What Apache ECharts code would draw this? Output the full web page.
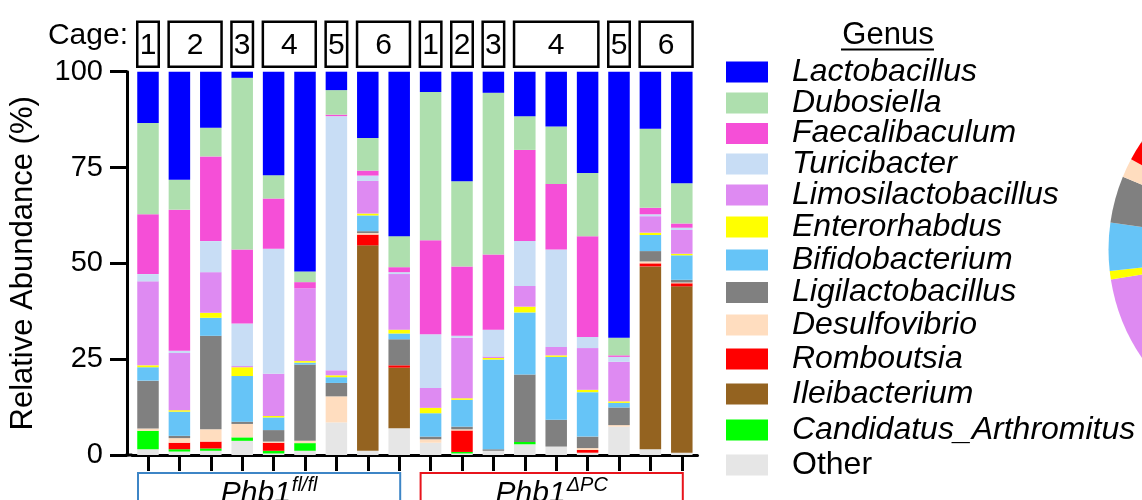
<!DOCTYPE html>
<html>
<head>
<meta charset="utf-8">
<script src="https://cdn.jsdelivr.net/npm/echarts@6/dist/echarts.min.js"></script>
<style>
html,body{margin:0;padding:0;background:#fff;}
#chart{width:1142px;height:500px;}
</style>
</head>
<body>
<div id="chart"></div>
<script>
// ---------- DATA ----------
const samples = ['F1','F2','F3','F4','F5','F6','F7','F8','F9','D1','D2','D3','D4','D5','D6','D7','D8','D9'];
const genera = ['Lactobacillus','Dubosiella','Faecalibaculum','Turicibacter','Limosilactobacillus','Enterorhabdus',
  'Bifidobacterium','Ligilactobacillus','Desulfovibrio','Romboutsia','Ileibacterium','Candidatus_Arthromitus','Other'];

const lactobacillus       = [13.4,28.2,14.6,1.6,27.0,52.1,4.8,17.3,42.9, 5.3,28.6,5.5,11.6,14.3,26.4,69.4,14.9,29.1];
const dubosiella          = [23.8,7.8,7.5,44.8,6.1,2.8,6.4,8.5,8.1, 38.7,22.2,42.2,8.8,15.0,16.5,4.6,20.6,10.5];
const faecalibaculum      = [15.6,36.8,22.1,19.3,13.1,1.6,0.4,1.3,1.3, 24.5,18.1,19.6,23.8,17.1,26.3,0.4,1.7,1.1];
const turicibacter        = [1.9,0.6,8.1,11.1,32.6,0,66.3,1.4,0.5, 14.0,0.5,7.0,11.7,25.4,2.9,1.3,0.5,0.6];
const limosilactobacillus = [21.9,14.9,10.6,0.3,11.0,19.0,1.3,8.5,14.5, 5.2,15.8,0.4,5.4,2.2,10.9,10.3,4.3,6.2];
const enterorhabdus       = [0.5,0.4,1.3,2.3,0.4,0.4,0.5,0.5,1.0, 1.4,0.4,0.4,1.5,0.4,0.6,0.4,0.6,0.4];
const bifidobacterium     = [3.5,6.3,4.7,11.9,3.3,0.5,1.5,4.1,1.5, 6.1,7.0,23.4,16.2,16.4,11.6,1.2,4.2,6.4];
const ligilactobacillus   = [12.5,0.6,24.4,0.6,3.0,19.9,3.5,0.5,6.8, 0.7,0.7,0.4,17.6,7.0,3.0,4.6,2.7,0.7];
const desulfovibrio       = [0.6,1.2,3.2,3.5,0.3,0.6,6.8,0.4,0, 0.9,0.3,0,0,0,0.5,0.4,0.5,0.2];
const romboutsia          = [0,1.7,1.8,0,2.1,0,0,2.8,0.6, 0,5.6,0,0,0,0.7,0,0.8,0.8];
const ileibacterium       = [0,0,0,0,0,0,0,53.6,15.8, 0,0,0,0,0,0,0,47.7,43.4];
const candidatus          = [4.8,0.6,0.6,0.9,0.7,2.0,0,0,0, 0,0.4,0,0.6,0,0,0,0,0];
const other               = [1.5,0.9,1.1,3.7,0.4,1.1,8.5,1.1,7.0, 3.2,0.4,1.1,2.8,2.2,0.6,7.4,1.5,0.6];

// pie (partially visible panel at right edge), legend order, %
const pieValues = [22.6,16.4,13.6,10.4,9.5,0.7,4.05,3.95,1.6,1.65,9.0,0.6,5.95];

const yTicks = [0,25,50,75,100];
const cageLabels = ['1','2','3','4','5','6','1','2','3','4','5','6'];
const cageFirst  = [0,1,3,4,6,7, 9,10,11,12,15,16];
const cageLast   = [0,2,3,5,6,8, 9,10,11,14,15,17];
const groupNames = ['Phb1','Phb1'];
const groupSups  = ['fl/fl','ΔPC'];
const groupFirst = [0,9];
const groupLast  = [8,17];

// ---------- STYLE ----------
const values = [lactobacillus,dubosiella,faecalibaculum,turicibacter,limosilactobacillus,enterorhabdus,
  bifidobacterium,ligilactobacillus,desulfovibrio,romboutsia,ileibacterium,candidatus,other];
const colors = ['#0000FF','#AEDFAE','#F54FD7','#C8DDF5','#DE8AF2','#FFFF00','#66C4F7','#808080',
  '#FFDDBF','#FF0000','#946320','#00FF00','#E6E6E6'];
const FONT = "'Liberation Sans', Arial, Helvetica, sans-serif";
const legendRowY = [72,103,133.5,164,195,227,260,292.5,325,359,394,430,465];
const BAR_W = 21.5;

const chart = echarts.init(document.getElementById('chart'), null, {renderer:'canvas'});

const barSeries = genera.map((g,i)=>({
  name:g, type:'bar', stack:'total', barWidth:BAR_W,
  data: values[i], itemStyle:{color:colors[i]}, emphasis:{disabled:true}
})).reverse();

const pieSeries = {
  type:'pie', center:[1300,249.5], radius:191.5, startAngle:90, clockwise:true,
  label:{show:false}, labelLine:{show:false}, emphasis:{disabled:true},
  itemStyle:{borderWidth:0},
  data: genera.map((g,i)=>({name:g, value:pieValues[i], itemStyle:{color:colors[i]}}))
};

const legends = genera.map((g,i)=>({
  left:726, top:legendRowY[i]-16, padding:0, orient:'vertical',
  icon:'rect', itemWidth:42, itemHeight:21, selectedMode:false,
  textStyle:{fontSize:32, fontFamily:FONT, color:'#000', fontStyle: g==='Other'?'normal':'italic', padding:[0,0,0,19]},
  data:[{name:g}]
}));

const option = {
  animation:false,
  backgroundColor:'#fff',
  grid:{left:132.3, right:1142-697.5, top:71.7, bottom:45},
  xAxis:{
    type:'category', data:samples, boundaryGap:true,
    axisLine:{lineStyle:{color:'#000', width:3}},
    axisTick:{show:true, alignWithLabel:true, length:16, lineStyle:{color:'#000', width:3}},
    axisLabel:{show:false}
  },
  yAxis:{
    type:'value', min:0, max:100, interval:25, offset:5.3,
    name:'Relative Abundance (%)', nameLocation:'middle', nameGap:88, nameRotate:90,
    nameTextStyle:{fontSize:31, fontFamily:FONT, color:'#000'},
    axisLine:{show:true, lineStyle:{color:'#000', width:3}},
    axisTick:{show:true, length:17, lineStyle:{color:'#000', width:3}},
    axisLabel:{fontSize:29, fontFamily:FONT, color:'#000', margin:24},
    splitLine:{show:false}
  },
  legend: legends,
  series: [...barSeries, pieSeries]
};
chart.setOption(option);

// ---------- annotations from axis scales ----------
const px = i => chart.convertToPixel({xAxisIndex:0}, samples[i]);
const py = v => chart.convertToPixel({yAxisIndex:0}, v);
const g = [];
// close the gap between offset y axis and x axis line
const yAxisX = 132.3 - 5.3;
g.push({type:'line', shape:{x1:yAxisX-1.5, y1:py(0), x2:132.3, y2:py(0)}, style:{stroke:'#000', lineWidth:3}});

// Cage label + boxes
g.push({type:'text', x:128, y:36, style:{text:'Cage:', font:'30px '+FONT, fill:'#000', align:'right', verticalAlign:'middle'}});
cageLabels.forEach((lab,k)=>{
  const x0 = px(cageFirst[k]) - BAR_W/2, x1 = px(cageLast[k]) + BAR_W/2;
  g.push({type:'rect', shape:{x:x0, y:21.7, width:x1-x0, height:45}, style:{fill:'#fff', stroke:'#000', lineWidth:2.5}});
  g.push({type:'text', x:(x0+x1)/2, y:46, style:{text:lab, font:'30px '+FONT, fill:'#000', align:'center', verticalAlign:'middle'}});
});

// Genotype group boxes
const groupStroke = ['#3D85C6','#E8141C'];
groupNames.forEach((nm,k)=>{
  const x0 = px(groupFirst[k]) - 10, x1 = px(groupLast[k]) + 1;
  g.push({type:'rect', shape:{x:x0, y:473, width:x1-x0, height:40}, style:{fill:'#fff', stroke:groupStroke[k], lineWidth:2}});
  g.push({type:'text', x:(x0+x1)/2, y:492, style:{
    text:'{a|'+nm+'}{b|'+groupSups[k]+'}', align:'center', verticalAlign:'middle',
    rich:{
      a:{font:'italic 30px '+FONT, fill:'#000', verticalAlign:'bottom'},
      b:{font:'italic 20px '+FONT, fill:'#000', verticalAlign:'bottom', padding:[0,0,14,1]}
    }
  }});
});

// Legend title
g.push({type:'text', x:888, y:35, style:{text:'Genus', font:'31px '+FONT, fill:'#000', align:'center', verticalAlign:'middle'}});
g.push({type:'line', shape:{x1:841, y1:49.5, x2:934, y2:49.5}, style:{stroke:'#000', lineWidth:2}});

chart.setOption({graphic:g});
</script>
</body>
</html>
